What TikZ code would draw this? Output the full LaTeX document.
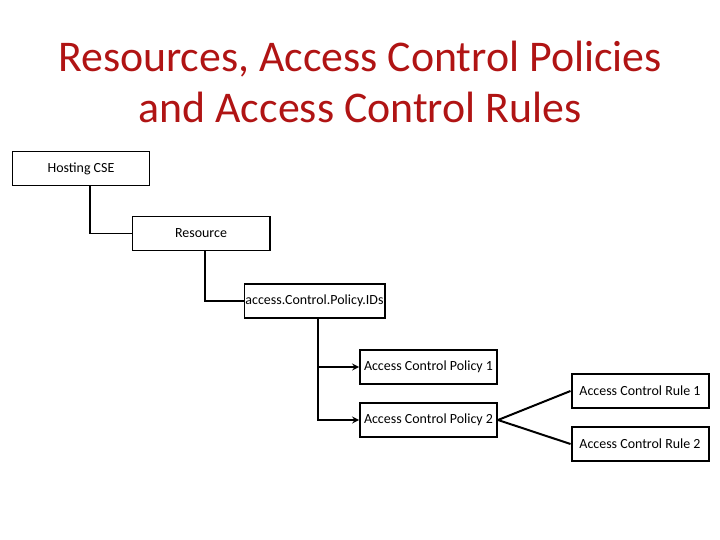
\documentclass[tikz,border=0pt]{standalone}
\usepackage{fontspec}
\setmainfont{Carlito}
\usetikzlibrary{arrows}
\usetikzlibrary{positioning}
\definecolor{titlered}{RGB}{176,20,20}
\tikzset{
  box/.style={draw, line width=2pt, minimum height=34bp, minimum width=137bp, inner sep=1pt, font=\fontsize{14}{16}\selectfont},
  wire/.style={line width=2pt},
}
\begin{document}
\begin{tikzpicture}[x=1bp,y=-1bp]
    \useasboundingbox (0,0) rectangle (720,540);
    % title
    \node[text=titlered, align=center, font=\fontsize{44}{52}\selectfont] (title) at (360,82)
        {Resources, Access Control Policies\\and Access Control Rules};

    % boxes
    \node[box] (cse) at (81,168.5) {Hosting CSE};
    \node[box] (res) at (201,233.5) {Resource};
    \node[box] (ids) at (314.5,301) {access.Control.Policy.IDs};
    \node[box] (acp1) at (428.5,367) {Access Control Policy 1};
    \node[box] (acp2) at (428.5,420) {Access Control Policy 2};
    \node[box] (acr1) at (640,391) {Access Control Rule 1};
    \node[box] (acr2) at (640,444) {Access Control Rule 2};

    % tree lines
    \draw[wire] (cse.south -| 90,0) |- (res.west);
    \draw[wire] (res.south -| 205,0) |- (ids.west);
    \coordinate (fork) at (ids.south -| 318,0);
    \draw[wire,->,>=stealth] (fork) |- (acp1.west);
    \draw[wire,->,>=stealth] (fork) |- (acp2.west);
    \draw[wire] (acp2.east) -- (acr1.west);
    \draw[wire] (acp2.east) -- (acr2.west);
\end{tikzpicture}
\end{document}
